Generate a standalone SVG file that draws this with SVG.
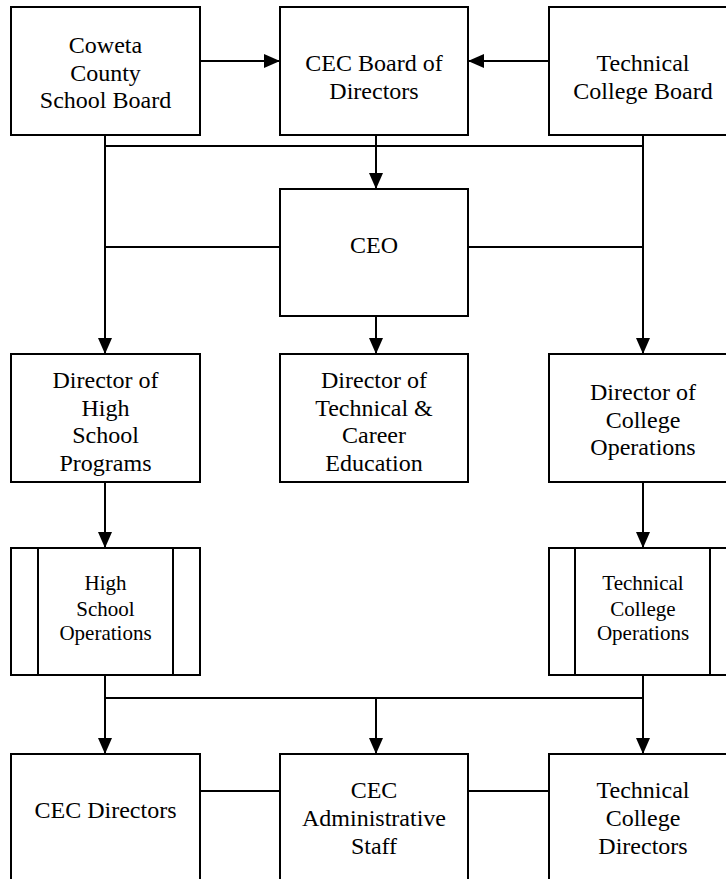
<svg xmlns="http://www.w3.org/2000/svg" width="726" height="879" viewBox="0 0 726 879">
<style>
.box{fill:#fff;stroke:#000;stroke-width:2}
.in{fill:none;stroke:#000;stroke-width:2}
.c{fill:none;stroke:#000;stroke-width:2}
text{font-family:"Liberation Serif","Times New Roman",serif;font-size:24px;fill:#000;text-anchor:middle}
.s{font-size:21px}
</style>
<defs>
<marker id="ah" markerUnits="userSpaceOnUse" markerWidth="16" markerHeight="14" refX="16" refY="7" orient="auto">
<path d="M0,0 L16,7 L0,14 z" fill="#000"/>
</marker>
</defs>
<rect width="726" height="879" fill="#fff"/>
<g id="connectors">
<line class="c" x1="200" y1="61" x2="280" y2="61" marker-end="url(#ah)"/>
<line class="c" x1="549" y1="61" x2="468" y2="61" marker-end="url(#ah)"/>
<line class="c" x1="376" y1="135" x2="376" y2="189" marker-end="url(#ah)"/>
<line class="c" x1="105" y1="146" x2="643" y2="146"/>
<line class="c" x1="105" y1="135" x2="105" y2="354" marker-end="url(#ah)"/>
<line class="c" x1="643" y1="135" x2="643" y2="354" marker-end="url(#ah)"/>
<line class="c" x1="280" y1="247" x2="105" y2="247"/>
<line class="c" x1="468" y1="247" x2="643" y2="247"/>
<line class="c" x1="376" y1="316" x2="376" y2="354" marker-end="url(#ah)"/>
<line class="c" x1="105" y1="482" x2="105" y2="548" marker-end="url(#ah)"/>
<line class="c" x1="643" y1="482" x2="643" y2="548" marker-end="url(#ah)"/>
<line class="c" x1="105" y1="698" x2="643" y2="698"/>
<line class="c" x1="105" y1="675" x2="105" y2="754" marker-end="url(#ah)"/>
<line class="c" x1="643" y1="675" x2="643" y2="754" marker-end="url(#ah)"/>
<line class="c" x1="376" y1="698" x2="376" y2="754" marker-end="url(#ah)"/>
<line class="c" x1="200" y1="791" x2="280" y2="791"/>
<line class="c" x1="468" y1="791" x2="549" y2="791"/>
</g>
<g id="coweta">
<rect class="box" x="11" y="7" width="189" height="128"/>
<text x="105.5" y="53">Coweta</text>
<text x="105.5" y="81">County</text>
<text x="105.5" y="108">School Board</text>
</g>
<g id="cec-board">
<rect class="box" x="280" y="7" width="188" height="128"/>
<text x="374" y="71">CEC Board of</text>
<text x="374" y="99">Directors</text>
</g>
<g id="tc-board">
<rect class="box" x="549" y="7" width="189" height="128"/>
<text x="643" y="71">Technical</text>
<text x="643" y="99">College Board</text>
</g>
<g id="ceo">
<rect class="box" x="280" y="189" width="188" height="127"/>
<text x="374" y="253">CEO</text>
</g>
<g id="dir-hs">
<rect class="box" x="11" y="354" width="189" height="128"/>
<text x="105.5" y="388">Director of</text>
<text x="105.5" y="416">High</text>
<text x="105.5" y="443">School</text>
<text x="105.5" y="471">Programs</text>
</g>
<g id="dir-tce">
<rect class="box" x="280" y="354" width="188" height="128"/>
<text x="374" y="388">Director of</text>
<text x="374" y="416">Technical &amp;</text>
<text x="374" y="443">Career</text>
<text x="374" y="471">Education</text>
</g>
<g id="dir-co">
<rect class="box" x="549" y="354" width="189" height="128"/>
<text x="643" y="400">Director of</text>
<text x="643" y="428">College</text>
<text x="643" y="455">Operations</text>
</g>
<g id="hs-ops">
<rect class="box" x="11" y="548" width="189" height="127"/>
<line class="in" x1="38" y1="548" x2="38" y2="675"/>
<line class="in" x1="173" y1="548" x2="173" y2="675"/>
<text class="s" x="105.5" y="590">High</text>
<text class="s" x="105.5" y="615.5">School</text>
<text class="s" x="105.5" y="640">Operations</text>
</g>
<g id="tc-ops">
<rect class="box" x="549" y="548" width="189" height="127"/>
<line class="in" x1="575" y1="548" x2="575" y2="675"/>
<line class="in" x1="710" y1="548" x2="710" y2="675"/>
<text class="s" x="643" y="590">Technical</text>
<text class="s" x="643" y="615.5">College</text>
<text class="s" x="643" y="640">Operations</text>
</g>
<g id="cec-directors">
<rect class="box" x="11" y="754" width="189" height="128"/>
<text x="105.5" y="818">CEC Directors</text>
</g>
<g id="cec-admin">
<rect class="box" x="280" y="754" width="188" height="128"/>
<text x="374" y="798">CEC</text>
<text x="374" y="826">Administrative</text>
<text x="374" y="854">Staff</text>
</g>
<g id="tc-directors">
<rect class="box" x="549" y="754" width="189" height="128"/>
<text x="643" y="798">Technical</text>
<text x="643" y="826">College</text>
<text x="643" y="854">Directors</text>
</g>
</svg>
